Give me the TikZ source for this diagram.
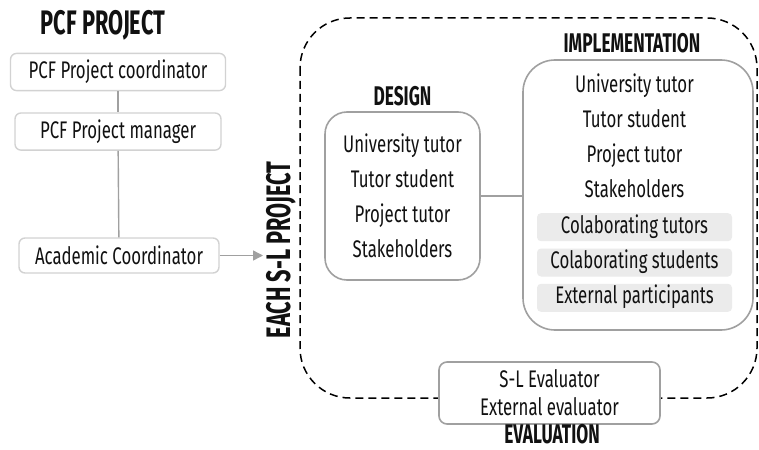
\documentclass[tikz,border=0pt]{standalone}
\usepackage{fontspec}
\setmainfont{Fira Sans}[FakeStretch=0.7, BoldFeatures={FakeStretch=0.64}]
\usepackage{xcolor}
\usetikzlibrary{arrows.meta,positioning}
\definecolor{edge}{HTML}{A0A0A0}
\definecolor{soft}{HTML}{D2D2D2}
\definecolor{shade}{HTML}{EBEBEB}
\definecolor{ink}{HTML}{111111}

\begin{document}
\begin{tikzpicture}[x=0.5pt, y=-0.5pt, text=ink,
    rolebox/.style={rectangle, draw=soft, line width=0.7pt, fill=white,
                    rounded corners=3pt, minimum height=17.5pt,
                    font=\fontsize{12}{14}\selectfont},
    phasebox/.style={rectangle, draw=edge, line width=0.8pt, fill=white,
                     align=center, font=\fontsize{12}{17.5}\selectfont},
    member/.style={rectangle, minimum height=14pt, minimum width=97.5pt,
                   text height=8.6pt, text depth=2.6pt,
                   inner sep=0pt, rounded corners=2pt,
                   font=\fontsize{12}{14}\selectfont},
    title/.style={font=\bfseries\fontsize{13.5}{15}\selectfont, anchor=base,
                  inner sep=0.5pt, text depth=0pt},
    bigtitle/.style={font=\bfseries\fontsize{17}{19}\selectfont},
    link/.style={draw=edge, line width=0.7pt},
    frame/.style={dash pattern=on 4pt off 2.5pt, line width=0.75pt,
                  rounded corners=25pt},
]
\useasboundingbox (0,0) rectangle (759,449);

% PCF project side
\node[bigtitle, anchor=base] (pcf) at (103,35) {PCF PROJECT};
\node[rolebox, minimum width=107.5pt] (coord) at (118,72) {PCF Project coordinator};
\node[rolebox, minimum width=103pt, below=10.5pt of coord] (manager) {PCF Project manager};
\node[rolebox, minimum width=100pt] (acad) at (119,255.5) {Academic Coordinator};

\draw[link] (coord) -- (manager);
\draw[link] (manager) -- (acad);

% each S-L project
\draw[frame] (300,18) rectangle (757,398);
\node[bigtitle, rotate=90] (each) at (281,250) {EACH S-L PROJECT};
\coordinate (entry) at (263,257);
\draw[link, -{Triangle[length=5pt, width=5pt]}] (acad.east) -- (acad.east -| entry);

\node[phasebox, rounded corners=11pt, minimum width=77.5pt, minimum height=84pt]
    (design) at (402.5,196) {University tutor\\Tutor student\\Project tutor\\Stakeholders};
\node[title] (designlbl) at (402.5,105) {DESIGN};

\node[phasebox, rounded corners=16pt, minimum width=115pt, minimum height=135pt]
    (impl) at (638,195) {};
\node[title] (impllbl) at (632,53) {IMPLEMENTATION};
\node[member] (m1) at (634.5,86) {University tutor};
\node[member, below=3.25pt of m1] (m2) {Tutor student};
\node[member, below=3.25pt of m2] (m3) {Project tutor};
\node[member, below=3.25pt of m3] (m4) {Stakeholders};
\node[member, fill=shade, below=3.25pt of m4] (m5) {Colaborating tutors};
\node[member, fill=shade, below=3.25pt of m5] (m6) {Colaborating students};
\node[member, fill=shade, below=3.25pt of m6] (m7) {External participants};

\draw[link] (design.east) -- (design.east -| impl.west);

\node[phasebox, rounded corners=4pt, minimum width=110.5pt, minimum height=31pt,
      font=\fontsize{12}{14}\selectfont]
    (eval) at (549.5,393) {S-L Evaluator\\External evaluator};
\node[title] (evallbl) at (552,443) {EVALUATION};

\end{tikzpicture}
\end{document}
